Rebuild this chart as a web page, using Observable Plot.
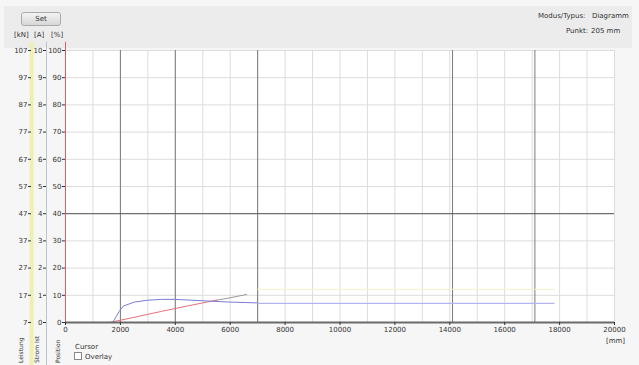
<!DOCTYPE html>
<html>
<head>
<meta charset="utf-8">
<script src="https://cdn.jsdelivr.net/npm/d3@7"></script>
<script src="https://cdn.jsdelivr.net/npm/@observablehq/plot@0.6"></script>
<style>
  html, body { margin: 0; padding: 0; background: #fafafa; }
  #wrap { position: relative; width: 639px; height: 365px; overflow: hidden; background: #f6f6f6; font-family: "DejaVu Sans", sans-serif; font-size: 7px; color: #333; }
  #head { position: absolute; left: 4px; top: 6px; width: 628px; height: 42px; background: #ececec; }
  #btn { position: absolute; left: 21px; top: 12px; width: 38px; height: 12px; background: linear-gradient(#f4f4f4, #d6d6d6); border: 1px solid #aaa; border-radius: 3px; text-align: center; line-height: 12px; font-size: 7px; }
  .t { position: absolute; white-space: nowrap; font-size: 7px; color: #333; }
  .rot { position: absolute; transform: rotate(-90deg); transform-origin: left top; white-space: nowrap; font-size: 6px; color: #333; }
  #chart { position: absolute; left: 0; top: 0; }
  .box { display: inline-block; width: 6px; height: 6px; border: 1px solid #888; background: #fff; vertical-align: -1px; margin-right: 3px; }
</style>
</head>
<body>
<div id="wrap">
  <div id="head"></div>
  <div id="btn">Set</div>
  <div class="t" style="left:538px; top:12px;">Modus/Typus:</div>
  <div class="t" style="left:592px; top:12px;">Diagramm</div>
  <div class="t" style="left:566px; top:27px;">Punkt:</div>
  <div class="t" style="left:591px; top:27px;">205 mm</div>
  <div class="t" style="left:14px; top:31px;">[kN]</div>
  <div class="t" style="left:34px; top:31px;">[A]</div>
  <div class="t" style="left:51px; top:31px;">[%]</div>
  <div id="chart"></div>
  <div class="rot" style="left:17px; top:363px;">Leistung</div>
  <div class="rot" style="left:33px; top:363px;">Strom Ist</div>
  <div class="rot" style="left:54px; top:363px;">Position</div>
  <div class="t" style="left:75px; top:343px;">Cursor</div>
  <div class="t" style="left:74px; top:352px;"><span class="box"></span>Overlay</div>
  <div class="t" style="left:606px; top:337px;">[mm]</div>
</div>
<script>
// ---- data ----
const xTicks = [0, 2000, 4000, 6000, 8000, 10000, 12000, 14000, 16000, 18000, 20000];
const xGrid = [0,1000,2000,3000,4000,5000,6000,7000,8000,9000,10000,11000,12000,13000,14000,15000,16000,17000,18000,19000,20000];
const yTicks = [0, 10, 20, 30, 40, 50, 60, 70, 80, 90, 100];
const kNLabels = ["7", "17", "27", "37", "47", "57", "67", "77", "87", "97", "107"];
const ampLabels = ["0", "1", "2", "3", "4", "5", "6", "7", "8", "9", "10"];
const pctLabels = ["0", "10", "20", "30", "40", "50", "60", "70", "80", "90", "100"];
const markerX = [2000, 4000, 7000, 14100, 17100];
const refY = [40];

// current (A, 0..10 scale)
const currentX = [1750, 1950, 2100, 2500, 3000, 3500, 4000, 5000, 6000, 7000];
const currentY = [0.05, 0.4, 0.6, 0.75, 0.82, 0.85, 0.85, 0.8, 0.75, 0.72];
// overlay of current (A)
const overlayX = [7000, 17800];
const overlayY = [0.7, 0.7];
// position (%)
const posX = [1600, 2500, 3500, 4500, 5500];
const posY = [0, 1.9, 4.1, 6.2, 8.2];
// position continuation (gray)
const pos2X = [5400, 6000, 6600];
const pos2Y = [8.0, 9.1, 10.3];
// power (faint yellow, % scale)
const powX = [7000, 17800];
const powY = [12.2, 12.2];

const cur = currentX.map((x, i) => ({x, y: currentY[i] * 10}));
const ovl = overlayX.map((x, i) => ({x, y: overlayY[i] * 10}));
const pos = posX.map((x, i) => ({x, y: posY[i]}));
const pos2 = pos2X.map((x, i) => ({x, y: pos2Y[i]}));
const pow = powX.map((x, i) => ({x, y: powY[i]}));

const chart = Plot.plot({
  width: 639,
  height: 365,
  marginLeft: 65,
  marginRight: 25,
  marginTop: 50,
  marginBottom: 43,
  style: {background: "transparent", fontFamily: "DejaVu Sans", fontSize: "7px", color: "#333"},
  x: {domain: [0, 20000], label: null},
  y: {domain: [0, 100], label: null},
  marks: [
    Plot.frame({fill: "white", stroke: "#bbb"}),
    Plot.gridX(xGrid, {stroke: "#dcdcdc", strokeOpacity: 1}),
    Plot.gridY(yTicks, {stroke: "#dcdcdc", strokeOpacity: 1}),
    Plot.ruleX(markerX, {stroke: "#7a7a7a", strokeWidth: 1}),
    Plot.ruleY(refY, {stroke: "#555", strokeWidth: 1}),
    // left axis lines
    Plot.ruleX([0], {y1: -16, y2: 103, dx: -34, stroke: "#efefb0", strokeWidth: 4, clip: false}),
    Plot.ruleX([0], {y1: -16, y2: 103, dx: -19, stroke: "#b8c4d0", strokeWidth: 1, clip: false}),
    Plot.ruleX([0], {y1: 0, y2: 103, stroke: "#e06060", strokeWidth: 1, clip: false}),
    // series
    Plot.line(pow, {x: "x", y: "y", stroke: "#f2f2c8", strokeWidth: 1}),
    Plot.line(ovl, {x: "x", y: "y", stroke: "#b4b4ee", strokeWidth: 1.2}),
    Plot.line(pos2, {x: "x", y: "y", stroke: "#9a9a9a", strokeWidth: 1}),
    Plot.line(pos, {x: "x", y: "y", stroke: "#e8707a", strokeWidth: 1}),
    Plot.line(cur, {x: "x", y: "y", stroke: "#7c7cd6", strokeWidth: 1}),
    // bottom axis
    Plot.ruleY([0], {stroke: "#6a6a6a", strokeWidth: 2}),
    Plot.axisX(xTicks, {anchor: "bottom", label: null, tickSize: 3, tickPadding: 2, tickFormat: d => String(d), stroke: "#333", fill: "#333"}),
    // three left axes
    Plot.axisY(yTicks, {anchor: "left", label: null, tickSize: 3, tickPadding: 1, tickFormat: (d, i) => pctLabels[i], fill: "#333"}),
    Plot.axisY(yTicks, {anchor: "left", label: null, tickSize: 3, tickPadding: 1, dx: -19, tickFormat: (d, i) => ampLabels[i], fill: "#333"}),
    Plot.axisY(yTicks, {anchor: "left", label: null, tickSize: 3, tickPadding: 1, dx: -34, tickFormat: (d, i) => kNLabels[i], fill: "#333"})
  ]
});
document.getElementById("chart").appendChild(chart);
</script>
</body>
</html>
